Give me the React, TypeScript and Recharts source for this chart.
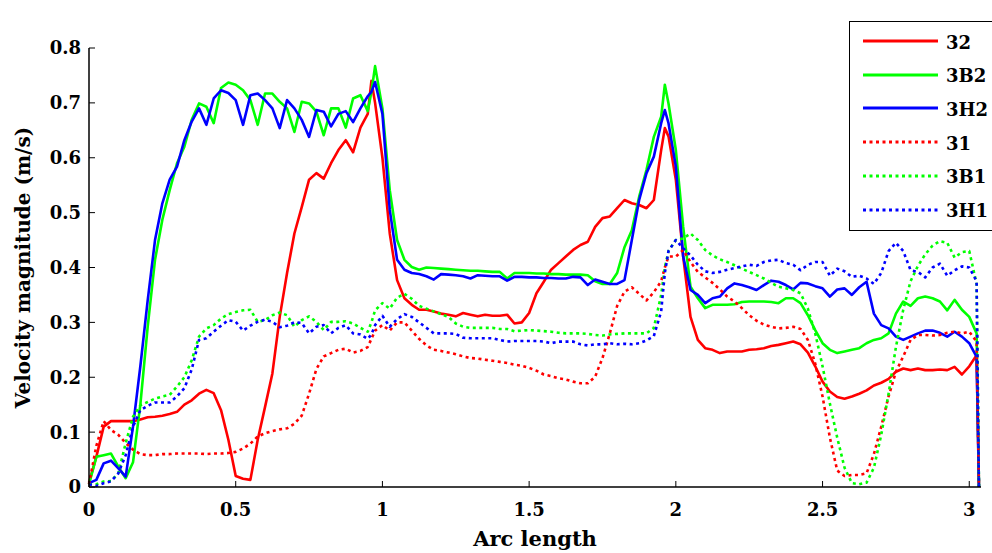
import { LineChart, Line, XAxis, YAxis, Legend, Label } from 'recharts';

// arc length samples (shared by all six curves)
const arcLength = [
    0, 0.025, 0.05, 0.075, 0.1, 0.125, 0.15, 0.175, 0.2, 0.225,
    0.25, 0.275, 0.3, 0.325, 0.35, 0.375, 0.4, 0.425, 0.45, 0.475,
    0.5, 0.525, 0.55, 0.575, 0.6, 0.625, 0.65, 0.675, 0.7, 0.725,
    0.75, 0.775, 0.8, 0.825, 0.85, 0.875, 0.9, 0.925, 0.95, 0.9625, 0.975, 1,
    1.025, 1.05, 1.075, 1.1, 1.125, 1.15, 1.175, 1.2, 1.225, 1.25,
    1.275, 1.3, 1.325, 1.35, 1.375, 1.4, 1.425, 1.45, 1.475, 1.5,
    1.525, 1.55, 1.575, 1.6, 1.625, 1.65, 1.675, 1.7, 1.725, 1.75,
    1.775, 1.8, 1.825, 1.85, 1.875, 1.9, 1.925, 1.95, 1.9625, 1.975, 2,
    2.025, 2.05, 2.075, 2.1, 2.125, 2.15, 2.175, 2.2, 2.225, 2.25,
    2.275, 2.3, 2.325, 2.35, 2.375, 2.4, 2.425, 2.45, 2.475, 2.5,
    2.525, 2.55, 2.575, 2.6, 2.625, 2.65, 2.675, 2.7, 2.725, 2.75,
    2.775, 2.8, 2.825, 2.85, 2.875, 2.9, 2.925, 2.95, 2.975, 3,
    3.025, 3.033,
];

// velocity magnitude (m/s)
const v32 = [
    0.008, 0.055, 0.11, 0.12, 0.12, 0.12, 0.12, 0.123, 0.127, 0.128,
    0.13, 0.133, 0.137, 0.15, 0.158, 0.17, 0.177, 0.171, 0.14, 0.086,
    0.02, 0.015, 0.013, 0.086, 0.146, 0.207, 0.31, 0.39, 0.462, 0.51,
    0.56, 0.572, 0.562, 0.59, 0.614, 0.632, 0.61, 0.655, 0.68, 0.74, 0.7, 0.6,
    0.462, 0.377, 0.344, 0.332, 0.323, 0.323, 0.32, 0.316, 0.314, 0.311,
    0.317, 0.314, 0.311, 0.314, 0.312, 0.312, 0.314, 0.298, 0.3, 0.317,
    0.353, 0.374, 0.396, 0.408, 0.42, 0.432, 0.441, 0.447, 0.474, 0.49,
    0.493, 0.508, 0.523, 0.517, 0.514, 0.508, 0.523, 0.614, 0.654, 0.639, 0.56,
    0.42, 0.31, 0.268, 0.253, 0.25, 0.244, 0.247, 0.247, 0.247, 0.25,
    0.251, 0.253, 0.257, 0.259, 0.262, 0.265, 0.26, 0.245, 0.22, 0.192,
    0.174, 0.164, 0.161, 0.165, 0.17, 0.176, 0.185, 0.19, 0.197, 0.21,
    0.216, 0.213, 0.216, 0.213, 0.213, 0.214, 0.213, 0.219, 0.205, 0.22,
    0.24, 0,
];

const v3B2 = [
    0.005, 0.055, 0.058, 0.061, 0.037, 0.016, 0.045, 0.15, 0.292, 0.414,
    0.487, 0.541, 0.59, 0.62, 0.669, 0.699, 0.693, 0.663, 0.727, 0.737,
    0.733, 0.723, 0.705, 0.66, 0.717, 0.717, 0.702, 0.69, 0.647, 0.702,
    0.699, 0.684, 0.641, 0.69, 0.69, 0.655, 0.708, 0.714, 0.685, 0.72, 0.767, 0.69,
    0.541, 0.45, 0.414, 0.401, 0.396, 0.4, 0.399, 0.398, 0.397, 0.396,
    0.395, 0.394, 0.394, 0.393, 0.392, 0.392, 0.38, 0.39, 0.39, 0.39,
    0.389, 0.389, 0.388, 0.388, 0.387, 0.387, 0.387, 0.386, 0.375, 0.37,
    0.37, 0.39, 0.437, 0.468, 0.529, 0.578, 0.638, 0.675, 0.733, 0.699, 0.614,
    0.474, 0.365, 0.344, 0.326, 0.332, 0.332, 0.332, 0.333, 0.337, 0.338,
    0.338, 0.338, 0.337, 0.335, 0.344, 0.344, 0.335, 0.313, 0.286, 0.262,
    0.25, 0.244, 0.247, 0.25, 0.253, 0.262, 0.268, 0.271, 0.28, 0.316,
    0.338, 0.33, 0.344, 0.347, 0.344, 0.338, 0.322, 0.341, 0.323, 0.31,
    0.28, 0,
];

const v3H2 = [
    0.007, 0.013, 0.043, 0.048, 0.034, 0.019, 0.11, 0.22, 0.34, 0.45,
    0.517, 0.56, 0.584, 0.632, 0.666, 0.69, 0.66, 0.708, 0.723, 0.718,
    0.705, 0.66, 0.714, 0.717, 0.705, 0.69, 0.654, 0.705, 0.69, 0.669,
    0.638, 0.687, 0.684, 0.657, 0.68, 0.685, 0.665, 0.69, 0.712, 0.72, 0.738, 0.68,
    0.505, 0.414, 0.396, 0.39, 0.388, 0.384, 0.378, 0.388, 0.387, 0.386,
    0.384, 0.38, 0.386, 0.385, 0.384, 0.384, 0.376, 0.383, 0.383, 0.382,
    0.382, 0.381, 0.381, 0.38, 0.38, 0.383, 0.382, 0.368, 0.378, 0.374,
    0.37, 0.37, 0.377, 0.45, 0.523, 0.572, 0.602, 0.663, 0.687, 0.663, 0.584,
    0.42, 0.359, 0.35, 0.335, 0.344, 0.347, 0.362, 0.371, 0.368, 0.364,
    0.359, 0.368, 0.376, 0.374, 0.368, 0.36, 0.372, 0.371, 0.366, 0.362,
    0.347, 0.36, 0.362, 0.35, 0.364, 0.374, 0.316, 0.295, 0.289, 0.274,
    0.268, 0.274, 0.28, 0.285, 0.285, 0.281, 0.274, 0.283, 0.274, 0.262,
    0.237, 0,
];

const v31 = [
    0.005, 0.075, 0.12, 0.104, 0.095, 0.08, 0.068, 0.06, 0.058, 0.058,
    0.06, 0.06, 0.061, 0.061, 0.061, 0.061, 0.06, 0.061, 0.061, 0.062,
    0.064, 0.07, 0.079, 0.092, 0.098, 0.102, 0.105, 0.107, 0.115, 0.13,
    0.17, 0.215, 0.238, 0.244, 0.25, 0.252, 0.245, 0.248, 0.255, 0.27, 0.285, 0.295,
    0.285, 0.3, 0.3, 0.285, 0.27, 0.258, 0.25, 0.248, 0.245, 0.242,
    0.238, 0.235, 0.234, 0.232, 0.23, 0.228, 0.226, 0.223, 0.221, 0.217,
    0.212, 0.205, 0.202, 0.198, 0.196, 0.192, 0.189, 0.189, 0.201, 0.235,
    0.28, 0.33, 0.356, 0.364, 0.352, 0.34, 0.355, 0.375, 0.4, 0.42, 0.42,
    0.432, 0.41, 0.392, 0.382, 0.372, 0.36, 0.347, 0.338, 0.326, 0.313,
    0.303, 0.296, 0.292, 0.289, 0.29, 0.292, 0.288, 0.268, 0.225, 0.165,
    0.09, 0.03, 0.02, 0.022, 0.022, 0.025, 0.06, 0.11, 0.165, 0.21,
    0.238, 0.268, 0.277, 0.277, 0.276, 0.277, 0.281, 0.283, 0.28, 0.283,
    0.265, 0,
];

const v3B1 = [
    0.005, 0.005, 0.01, 0.011, 0.025, 0.08, 0.128, 0.149, 0.155, 0.161,
    0.165, 0.168, 0.183, 0.2, 0.231, 0.274, 0.289, 0.295, 0.307, 0.315,
    0.319, 0.322, 0.323, 0.301, 0.304, 0.313, 0.318, 0.313, 0.292, 0.304,
    0.311, 0.301, 0.286, 0.301, 0.301, 0.302, 0.298, 0.29, 0.283, 0.3, 0.322, 0.335,
    0.325, 0.345, 0.352, 0.343, 0.33, 0.325, 0.32, 0.315, 0.31, 0.298,
    0.292, 0.29, 0.29, 0.29, 0.29, 0.288, 0.288, 0.284, 0.285, 0.286,
    0.285, 0.284, 0.283, 0.281, 0.28, 0.28, 0.28, 0.279, 0.277, 0.276,
    0.278, 0.279, 0.28, 0.28, 0.28, 0.28, 0.29, 0.35, 0.4, 0.43, 0.45,
    0.453, 0.462, 0.45, 0.432, 0.422, 0.415, 0.41, 0.404, 0.398, 0.392,
    0.386, 0.38, 0.372, 0.365, 0.362, 0.359, 0.353, 0.325, 0.28, 0.22,
    0.152, 0.09, 0.035, 0.007, 0.005, 0.008, 0.035, 0.095, 0.17, 0.255,
    0.323, 0.375, 0.403, 0.424, 0.44, 0.448, 0.445, 0.418, 0.428, 0.43,
    0.37, 0,
];

const v3H1 = [
    0.005, 0.002, 0.007, 0.01, 0.025, 0.058, 0.11, 0.14, 0.148, 0.154,
    0.154, 0.154, 0.165, 0.18, 0.214, 0.268, 0.271, 0.283, 0.294, 0.304,
    0.301, 0.285, 0.294, 0.301, 0.305, 0.301, 0.291, 0.294, 0.3, 0.299,
    0.28, 0.292, 0.295, 0.28, 0.29, 0.295, 0.28, 0.278, 0.27, 0.278, 0.295, 0.312,
    0.292, 0.306, 0.315, 0.31, 0.3, 0.29, 0.28, 0.28, 0.28, 0.279,
    0.272, 0.271, 0.271, 0.271, 0.271, 0.268, 0.265, 0.266, 0.266, 0.266,
    0.266, 0.265, 0.262, 0.265, 0.265, 0.265, 0.26, 0.258, 0.26, 0.26,
    0.262, 0.26, 0.261, 0.26, 0.262, 0.267, 0.275, 0.32, 0.39, 0.43, 0.45,
    0.435, 0.422, 0.405, 0.393, 0.39, 0.392, 0.396, 0.399, 0.402, 0.405,
    0.403, 0.41, 0.413, 0.414, 0.408, 0.405, 0.395, 0.405, 0.41, 0.41,
    0.385, 0.398, 0.393, 0.383, 0.385, 0.38, 0.37, 0.39, 0.43, 0.445,
    0.43, 0.395, 0.392, 0.382, 0.4, 0.407, 0.385, 0.395, 0.402, 0.4,
    0.375, 0,
];

const xTicks = [0, 0.5, 1, 1.5, 2, 2.5, 3];
const yTicks = [0, 0.1, 0.2, 0.3, 0.4, 0.5, 0.6, 0.7, 0.8];

const SERIES = [
    { key: 's32', name: '32', color: '#ff0000', dash: undefined },
    { key: 's3B2', name: '3B2', color: '#00ff00', dash: undefined },
    { key: 's3H2', name: '3H2', color: '#0000ff', dash: undefined },
    { key: 's31', name: '31', color: '#ff0000', dash: '3 3.5' },
    { key: 's3B1', name: '3B1', color: '#00ff00', dash: '3 3.5' },
    { key: 's3H1', name: '3H1', color: '#0000ff', dash: '3 3.5' },
];

const data = arcLength.map((x, i) => ({
    x,
    s32: v32[i],
    s3B2: v3B2[i],
    s3H2: v3H2[i],
    s31: v31[i],
    s3B1: v3B1[i],
    s3H1: v3H1[i],
}));

const FONT = '"DejaVu Serif", serif';
const axisLine = { stroke: '#000', strokeWidth: 1.5 };
const TICK_LEN = 6;
const X_MARGIN = 16;
const Y_MARGIN = 8;

const labelText = { fill: '#000', fontFamily: FONT, fontWeight: 700, fontSize: 18 };

// MATLAB style: tick marks point into the plot box
function BottomTick(props: any) {
    const { x, y, payload } = props;
    const y0 = y - X_MARGIN;
    return (
        <g>
            <line x1={x} x2={x} y1={y0} y2={y0 - TICK_LEN} stroke="#000" strokeWidth={1} />
            <text x={x} y={y} dy="0.71em" textAnchor="middle" {...labelText}>
                {String(payload.value)}
            </text>
        </g>
    );
}

function LeftTick(props: any) {
    const { x, y, payload } = props;
    const x0 = x + Y_MARGIN;
    const v = payload.value;
    return (
        <g>
            <line x1={x0} x2={x0 + TICK_LEN} y1={y} y2={y} stroke="#000" strokeWidth={1} />
            <text x={x} y={y} dy="0.355em" textAnchor="end" {...labelText}>
                {v === 0 ? '0' : v.toFixed(1)}
            </text>
        </g>
    );
}

function TopTick(props: any) {
    const { x, y } = props;
    return <line x1={x} x2={x} y1={y} y2={y + TICK_LEN} stroke="#000" strokeWidth={1} />;
}

function RightTick(props: any) {
    const { x, y } = props;
    return <line x1={x} x2={x - TICK_LEN} y1={y} y2={y} stroke="#000" strokeWidth={1} />;
}

function LegendBox() {
    return (
        <div
            style={{
                width: 150,
                height: 210,
                border: '1.5px solid #000',
                background: '#fff',
                boxSizing: 'border-box',
                position: 'relative',
            }}
        >
            {SERIES.map((s, i) => (
                <div
                    key={s.key}
                    style={{ position: 'absolute', left: 0, top: 2 + i * 33.7, height: 34, display: 'flex', alignItems: 'center' }}
                >
                    <svg width={96} height={34}>
                        <line x1={13} x2={88} y1={17} y2={17} stroke={s.color} strokeWidth={3} strokeDasharray={s.dash} />
                    </svg>
                    <span style={{ fontFamily: FONT, fontWeight: 700, fontSize: 18, color: '#000', lineHeight: '34px', paddingTop: 3 }}>
                        {s.name}
                    </span>
                </div>
            ))}
        </div>
    );
}

export default function App() {
    return (
        <div style={{ position: 'absolute', left: 0, top: 0, width: 992, height: 553, overflow: 'hidden', background: '#fff' }}>
            <LineChart width={992} height={553} data={data} margin={{ top: 48, right: 11, bottom: 0, left: 0 }}>
                <XAxis
                    dataKey="x"
                    type="number"
                    domain={[0, 3.04]}
                    ticks={xTicks}
                    height={66}
                    tickSize={0}
                    tickMargin={X_MARGIN}
                    tick={BottomTick}
                    tickLine={false}
                    axisLine={axisLine}
                >
                    <Label value="Arc length" position="insideBottom" offset={7} fill="#000" fontFamily={FONT} fontWeight={700} fontSize={21} />
                </XAxis>
                <XAxis
                    xAxisId="top"
                    orientation="top"
                    dataKey="x"
                    type="number"
                    domain={[0, 3.04]}
                    ticks={xTicks}
                    height={0}
                    tickSize={0}
                    tickMargin={0}
                    tick={TopTick}
                    tickLine={false}
                    axisLine={axisLine}
                >
                    <Label value="Design 3, 3B & 3H" position="top" offset={19} fill="#000" fontFamily={FONT} fontWeight={700} fontSize={20} />
                </XAxis>
                <YAxis
                    type="number"
                    domain={[0, 0.8]}
                    ticks={yTicks}
                    width={89}
                    tickSize={0}
                    tickMargin={Y_MARGIN}
                    tick={LeftTick}
                    tickLine={false}
                    axisLine={axisLine}
                >
                    <Label
                        value="Velocity magnitude (m/s)"
                        angle={-90}
                        position="insideLeft"
                        offset={23}
                        fill="#000"
                        fontFamily={FONT}
                        fontWeight={700}
                        fontSize={20}
                        style={{ textAnchor: 'middle' }}
                    />
                </YAxis>
                <YAxis
                    yAxisId="right"
                    orientation="right"
                    type="number"
                    domain={[0, 0.8]}
                    ticks={yTicks}
                    width={0}
                    tickSize={0}
                    tickMargin={0}
                    tick={RightTick}
                    tickLine={false}
                    axisLine={axisLine}
                />
                <Legend
                    layout="vertical"
                    align="center"
                    verticalAlign="middle"
                    wrapperStyle={{ left: 849, top: 21, width: 150, height: 210 }}
                    content={() => <LegendBox />}
                />
                {SERIES.map((s) => (
                    <Line
                        key={s.key}
                        dataKey={s.key}
                        name={s.name}
                        type="linear"
                        stroke={s.color}
                        strokeWidth={2.6}
                        strokeDasharray={s.dash}
                        strokeLinejoin="round"
                        dot={false}
                        activeDot={false}
                        isAnimationActive={false}
                    />
                ))}
            </LineChart>
        </div>
    );
}
